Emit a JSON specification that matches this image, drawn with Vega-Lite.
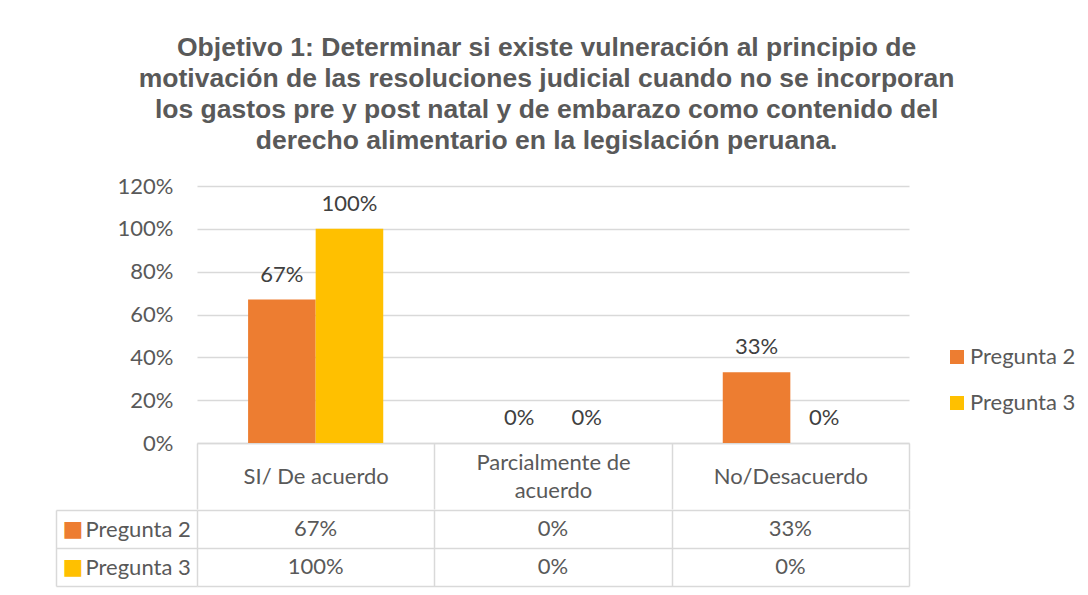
{
  "$schema": "https://vega.github.io/schema/vega-lite/v6.json",
  "background": "white",
  "padding": {"left": 55, "top": 34, "right": 5, "bottom": 5},
  "title": {
    "text": ["Objetivo 1: Determinar si existe vulneración al principio de", "motivación de las resoluciones judicial cuando no se incorporan", "los gastos pre y post natal y de embarazo como contenido del", "derecho alimentario en la legislación peruana."],
    "font": "Liberation Sans",
    "fontSize": 26.5,
    "fontWeight": "bold",
    "color": "#595959",
    "lineHeight": 31,
    "anchor": "middle",
    "dx": -19,
    "offset": 21
  },
  "data": {
    "values": [
      {"categoria": "SI/ De acuerdo", "serie": "Pregunta 2", "valor": 0.67},
      {"categoria": "SI/ De acuerdo", "serie": "Pregunta 3", "valor": 1.0},
      {"categoria": "Parcialmente de acuerdo", "serie": "Pregunta 2", "valor": 0},
      {"categoria": "Parcialmente de acuerdo", "serie": "Pregunta 3", "valor": 0},
      {"categoria": "No/Desacuerdo", "serie": "Pregunta 2", "valor": 0.33},
      {"categoria": "No/Desacuerdo", "serie": "Pregunta 3", "valor": 0}
    ]
  },
  "spacing": -11,
  "vconcat": [
    {
      "width": 712,
      "height": 257,
      "encoding": {
        "x": {
          "field": "categoria", "type": "nominal",
          "sort": ["SI/ De acuerdo", "Parcialmente de acuerdo", "No/Desacuerdo"],
          "scale": {"paddingInner": 0, "paddingOuter": 0},
          "axis": {
            "title": null, "orient": "bottom", "grid": false,
            "domain": true, "domainColor": "#d9d9d9", "domainWidth": 1.5,
            "ticks": true, "tickBand": "extent", "tickSize": 66, "tickColor": "#d9d9d9", "tickWidth": 1.5,
            "labelAngle": 0, "labelBaseline": "middle",
            "labelPadding": {"condition": {"test": "datum.value == 'Parcialmente de acuerdo'", "value": -47}, "value": -33},
            "labelFont": "Lato", "labelFontSize": 22, "labelColor": "#595959", "labelLineHeight": 28,
            "labelExpr": "datum.value == 'Parcialmente de acuerdo' ? ['Parcialmente de', 'acuerdo'] : datum.value"
          }
        },
        "xOffset": {"field": "serie", "type": "nominal", "scale": {"paddingInner": 0, "paddingOuter": 0.756}},
        "y": {
          "field": "valor", "type": "quantitative",
          "scale": {"domain": [0, 1.2]},
          "axis": {
            "title": null, "values": [0, 0.2, 0.4, 0.6, 0.8, 1.0, 1.2], "format": ".0%",
            "domain": false, "ticks": false, "grid": true, "gridColor": "#d9d9d9", "gridWidth": 1.5,
            "labelFont": "Lato", "labelFontSize": 22, "labelColor": "#595959", "labelPadding": 24
          }
        }
      },
      "layer": [
        {
          "mark": {"type": "bar"},
          "encoding": {
            "color": {
              "field": "serie", "type": "nominal",
              "scale": {"domain": ["Pregunta 2", "Pregunta 3"], "range": ["#ED7D31", "#FFC000"]},
              "legend": {
                "title": null, "orient": "none", "legendX": 749, "legendY": 160,
                "symbolType": "square", "symbolSize": 196, "symbolStrokeWidth": 0,
                "labelFont": "Lato", "labelFontSize": 22, "labelColor": "#595959",
                "labelOffset": 2, "rowPadding": 24
              }
            }
          }
        },
        {
          "mark": {"type": "text", "baseline": "alphabetic", "dy": -18, "font": "Lato", "fontSize": 22, "color": "#404040"},
          "encoding": {
            "text": {"field": "valor", "type": "quantitative", "format": ".0%"}
          }
        }
      ]
    },
    {
      "width": 712,
      "height": 76,
      "layer": [
        {
          "mark": {"type": "text", "font": "Lato", "fontSize": 22, "color": "#595959"},
          "encoding": {
            "x": {
              "field": "categoria", "type": "nominal",
              "sort": ["SI/ De acuerdo", "Parcialmente de acuerdo", "No/Desacuerdo"],
              "scale": {"paddingInner": 0, "paddingOuter": 0},
              "axis": {"title": null, "labels": false, "ticks": false, "domain": false, "grid": true, "tickBand": "extent", "gridColor": "#d9d9d9", "gridWidth": 1.5}
            },
            "y": {
              "field": "serie", "type": "nominal",
              "scale": {"paddingInner": 0, "paddingOuter": 0},
              "axis": {
                "title": null, "orient": "left", "domain": false,
                "ticks": true, "tickBand": "extent", "tickSize": 141, "tickColor": "#d9d9d9", "tickWidth": 1.5,
                "grid": true, "gridColor": "#d9d9d9", "gridWidth": 1.5,
                "labelAlign": "left", "labelPadding": -29, "labelBaseline": "middle",
                "labelFont": "Lato", "labelFontSize": 22, "labelColor": "#595959"
              }
            },
            "text": {"field": "valor", "type": "quantitative", "format": ".0%"}
          }
        },
        {
          "mark": {"type": "text", "opacity": 0},
          "encoding": {
            "x": {
              "field": "categoria", "type": "nominal",
              "sort": ["SI/ De acuerdo", "Parcialmente de acuerdo", "No/Desacuerdo"]
            },
            "y": {
              "field": "serie", "type": "nominal",
              "axis": {
                "title": null, "orient": "left", "offset": 141,
                "domain": true, "domainColor": "#d9d9d9", "domainWidth": 1.5,
                "ticks": false, "grid": false,
                "labelExpr": "'■'", "labelAlign": "left", "labelPadding": -6, "labelBaseline": "middle",
                "labelFont": "DejaVu Sans", "labelFontSize": 22,
                "labelColor": {"condition": {"test": "datum.value == 'Pregunta 2'", "value": "#ED7D31"}, "value": "#FFC000"}
              }
            },
            "text": {"field": "valor", "type": "quantitative", "format": ".0%"}
          }
        }
      ],
      "resolve": {"axis": {"y": "independent"}}
    }
  ],
  "config": {
    "view": {"stroke": null},
    "title": {"font": "Liberation Sans"}
  }
}
